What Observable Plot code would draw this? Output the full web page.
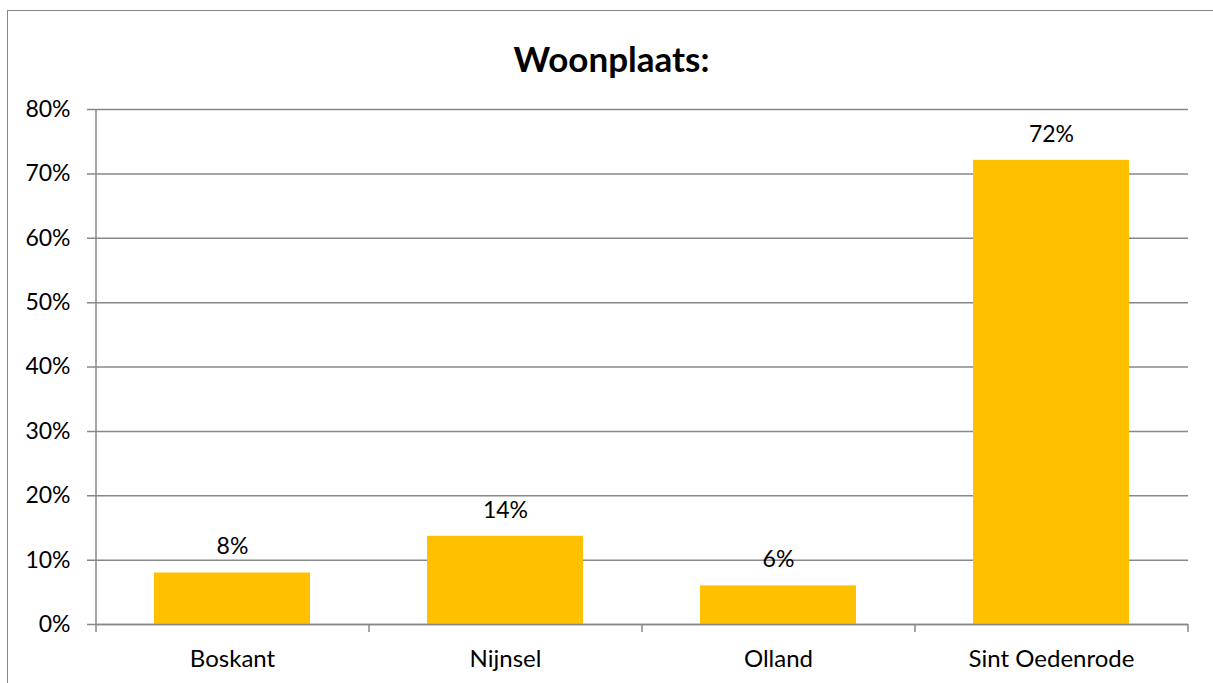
<!DOCTYPE html>
<html>
<head>
<meta charset="utf-8">
<script src="https://cdn.jsdelivr.net/npm/d3@7"></script>
<script src="https://cdn.jsdelivr.net/npm/@observablehq/plot@0.6"></script>
<style>
  html, body { margin: 0; padding: 0; background: #fff; }
  #wrap { position: relative; width: 1213px; height: 683px; overflow: hidden; font-family: Lato, "Open Sans", sans-serif; }
  #frame { position: absolute; left: 7px; top: 10px; width: 1220px; height: 700px; border: 1px solid #888; box-sizing: border-box; }
  #title { position: absolute; left: 0; width: 1223px; top: 36px; text-align: center; font-size: 35px; font-weight: bold; color: #000; line-height: 44px; }
  #chart { position: absolute; left: 0; top: 0; }
</style>
</head>
<body>
<div id="wrap">
  <div id="frame"></div>
  <div id="chart"></div>
  <div id="title">Woonplaats:</div>
</div>
<script>
const categories = ["Boskant", "Nijnsel", "Olland", "Sint Oedenrode"];
const values = [0.080, 0.137, 0.060, 0.721];
const valueLabels = ["8%", "14%", "6%", "72%"];
const yTicks = [0, 0.1, 0.2, 0.3, 0.4, 0.5, 0.6, 0.7, 0.8];

const data = categories.map((c, i) => ({category: c, value: values[i], label: valueLabels[i]}));

const W = 1213, H = 683, mL = 96, mR = 25, mT = 109, mB = 59;
const bw = (W - mL - mR) / categories.length;
const grid = "#888";
const font = "Lato, 'Open Sans', sans-serif";

const chart = Plot.plot({
  width: W,
  height: H,
  marginLeft: mL,
  marginRight: mR,
  marginTop: mT,
  marginBottom: mB,
  style: {fontFamily: font, fontSize: "23px", color: "#000", background: "transparent", overflow: "visible"},
  x: {domain: categories, paddingInner: 0.428, paddingOuter: 0.214, align: 0.5, label: null},
  y: {domain: [0, 0.8], label: null},
  marks: [
    Plot.ruleY(yTicks, {stroke: grid, strokeWidth: 1.5, insetLeft: -9}),
    Plot.axisY({ticks: yTicks, tickFormat: d => Math.round(d * 100) + "%", tickSize: 0, tickPadding: 26, fontSize: 23, fill: "#000"}),
    Plot.barY(data, {x: "category", y: "value", fill: "#FFC000"}),
    Plot.ruleX([categories[0]], {x: d => d, dx: -bw / 2, stroke: grid, strokeWidth: 1.5}),
    Plot.ruleY([0], {stroke: grid, strokeWidth: 1.5}),
    Plot.ruleX(categories, {x: d => d, y1: 0, y2: 0, insetBottom: -8, dx: -bw / 2, stroke: grid, strokeWidth: 1.5}),
    Plot.ruleX([categories[categories.length - 1]], {x: d => d, y1: 0, y2: 0, insetBottom: -8, dx: bw / 2, stroke: grid, strokeWidth: 1.5}),
    Plot.axisX({tickSize: 0, tickPadding: 25, fontSize: 24, fill: "#000"}),
    Plot.text(data, {x: "category", y: "value", text: "label", dy: -26, fontSize: 23, fill: "#000", textAnchor: "middle"})
  ]
});
document.getElementById("chart").appendChild(chart);
</script>
</body>
</html>
